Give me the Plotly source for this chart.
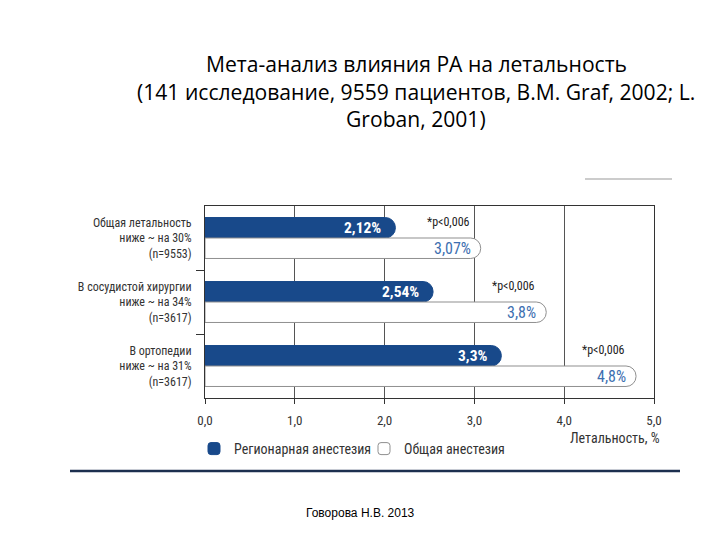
import plotly.graph_objects as go

# ---- data ----
categories = [
    "Общая летальность<br>ниже ~ на 30%<br>(n=9553)",
    "В сосудистой хирургии<br>ниже ~ на 34%<br>(n=3617)",
    "В ортопедии<br>ниже ~ на 31%<br>(n=3617)",
]
regional = [2.12, 2.54, 3.3]
general = [3.07, 3.8, 4.8]
p_labels = ["*p<0,006", "*p<0,006", "*p<0,006"]
x_ticks = [0, 1, 2, 3, 4, 5]
x_ticklabels = ["0,0", "1,0", "2,0", "3,0", "4,0", "5,0"]

BLUE = "#18498a"
NARROW = "Roboto Condensed, Liberation Sans Narrow, Arial Narrow, Liberation Sans, sans-serif"

# screen geometry of the plot area (page body has an 8px margin)
PL, PR, PT, PB = 205, 654, 206, 398
W, H = 712, 532


def px2paper(x, y):
    return (x - PL) / (PR - PL), (PB - y) / (PB - PT)


def fmt(v):
    return str(v).replace(".", ",") + "%"


ypos = list(range(len(categories)))
BW = 0.32  # each bar occupies 0.32 of a category step (bargap 0.36, two bars)

fig = go.Figure()
fig.add_trace(go.Bar(
    y=ypos, x=regional, orientation="h", name="Регионарная анестезия",
    marker=dict(color=BLUE, line=dict(color=BLUE, width=1)),
    legend="legend", cliponaxis=False,
))
fig.add_trace(go.Bar(
    y=ypos, x=general, orientation="h", name="Общая анестезия",
    marker=dict(color="white", line=dict(color="#8f8f8f", width=1)),
    legend="legend2", cliponaxis=False,
))

# value labels inside the bar ends
for i, v in enumerate(regional):
    fig.add_annotation(x=v, y=i - BW / 2, text=fmt(v), showarrow=False,
                       xanchor="right", yanchor="middle", xshift=-12,
                       font=dict(size=15.5, color="white", family=NARROW, weight="bold"))
for i, v in enumerate(general):
    fig.add_annotation(x=v, y=i + BW / 2, text=fmt(v), showarrow=False,
                       xanchor="right", yanchor="middle", xshift=-8,
                       font=dict(size=16, color="#3d6fb0", family=NARROW))

for i, (g, p) in enumerate(zip(general, p_labels)):
    fig.add_annotation(x=g, y=i - 0.25, text=p, showarrow=False, xanchor="right",
                       yanchor="middle", xshift=-9,
                       font=dict(size=12, color="#222", family=NARROW))

# title lines
title_lines = ["Мета-анализ влияния РА на летальность",
               "(141 исследование, 9559 пациентов, B.M. Graf, 2002; L.",
               "Groban, 2001)"]
title_y = [63, 91, 118]
for t, py in zip(title_lines, title_y):
    xp, yp = px2paper(416, py)
    fig.add_annotation(xref="paper", yref="paper", x=xp, y=yp,
                       text=t, showarrow=False, xanchor="center", yanchor="middle",
                       font=dict(size=21.1, color="black", family="Open Sans, sans-serif"))

xp, yp = px2paper(662, 438)
fig.add_annotation(xref="paper", yref="paper", x=xp, y=yp,
                   text="Летальность, %", showarrow=False, xanchor="right", yanchor="middle",
                   font=dict(size=14, color="#333", family=NARROW))

xp, yp = px2paper(360, 513)
fig.add_annotation(xref="paper", yref="paper", x=xp, y=yp,
                   text="Говорова Н.В. 2013", showarrow=False, xanchor="center", yanchor="middle",
                   font=dict(size=12, color="black", family="Liberation Sans, Arial, sans-serif"))

# frame decorations of the original picture
x0, y0 = px2paper(585, 179); x1, y1 = px2paper(672, 179)
fig.add_shape(type="line", xref="paper", yref="paper", x0=x0, y0=y0, x1=x1, y1=y1,
              line=dict(color="#999", width=1))
x0, y0 = px2paper(70, 471); x1, y1 = px2paper(680, 471)
fig.add_shape(type="line", xref="paper", yref="paper", x0=x0, y0=y0, x1=x1, y1=y1,
              line=dict(color="#1c2f4f", width=2.5))

lx1, ly = px2paper(194, 449)
lx2, _ = px2paper(364, 449)
legend_common = dict(orientation="h", xanchor="left", yanchor="middle", y=ly,
                     font=dict(size=14, color="#333", family=NARROW),
                     bgcolor="rgba(0,0,0,0)", borderwidth=0)

fig.update_layout(
    template="none",
    width=W, height=H,
    margin=dict(l=PL - 8, r=W - (PR - 8), t=PT - 8, b=H - (PB - 8), pad=0, autoexpand=False),
    paper_bgcolor="white", plot_bgcolor="white",
    barmode="group", bargap=0.36, bargroupgap=0.0,
    barcornerradius=10,
    showlegend=True,
    legend=dict(x=lx1, **legend_common),
    legend2=dict(x=lx2, **legend_common),
    xaxis=dict(range=[0, 5], tickvals=x_ticks, ticktext=x_ticklabels, automargin=False,
               showgrid=True, gridcolor="#555", gridwidth=1,
               showline=True, linecolor="#333", linewidth=1, mirror=True,
               ticks="outside", ticklen=5, tickcolor="#333", zeroline=False,
               ticklabelstandoff=5,
               tickfont=dict(size=13, color="#333", family=NARROW)),
    yaxis=dict(range=[2.5, -0.5], tickvals=ypos, ticktext=categories, automargin=False,
               showgrid=False, showline=True, linecolor="#333", linewidth=1, mirror=True,
               ticks="", zeroline=False, ticklabelstandoff=10,
               minor=dict(tickvals=[0.5, 1.5], ticks="outside", ticklen=8, tickcolor="#333"),
               tickfont=dict(size=12, color="#333", family=NARROW)),
    font=dict(family=NARROW),
)

fig.write_html("out.html")
